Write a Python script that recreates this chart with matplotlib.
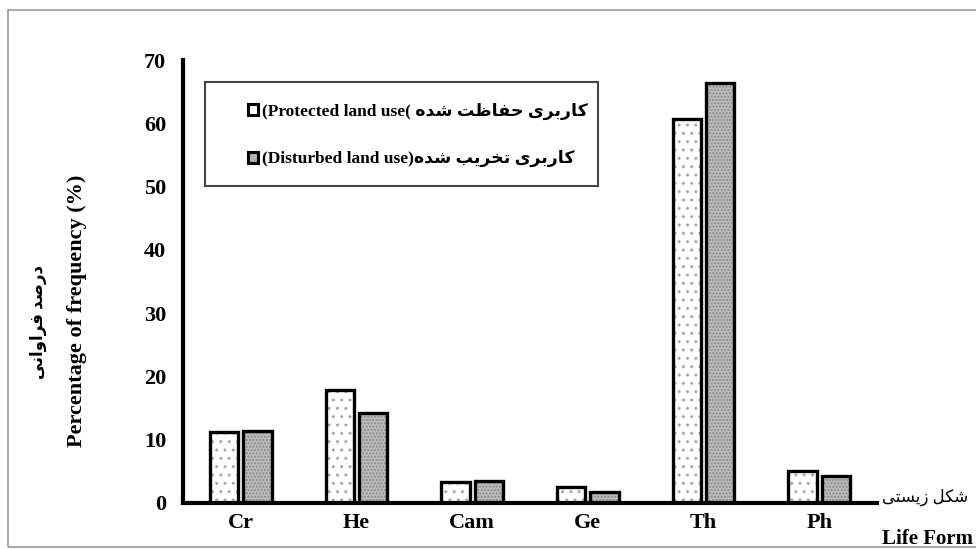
import numpy as np
import matplotlib.pyplot as plt
from matplotlib.patches import Rectangle

# data
categories = ['Cr', 'He', 'Cam', 'Ge', 'Th', 'Ph']
protected = [11.2, 17.9, 3.3, 2.5, 60.7, 5.0]
disturbed = [11.4, 14.2, 3.4, 1.8, 66.4, 4.3]
yticks = [0, 10, 20, 30, 40, 50, 60, 70]

fa_protected = 'کاربری حفاظت شده'
fa_disturbed = 'کاربری تخریب شده'
fa_ylabel = 'درصد فراوانی'
fa_xlabel = 'شکل زیستی'

# minimal Persian shaping (matplotlib has no bidi / shaping)
FORMS = {
    'ا': (0xFE8D, 0xFE8E, None, None),
    'ب': (0xFE8F, 0xFE90, 0xFE91, 0xFE92),
    'ت': (0xFE95, 0xFE96, 0xFE97, 0xFE98),
    'ح': (0xFEA1, 0xFEA2, 0xFEA3, 0xFEA4),
    'خ': (0xFEA5, 0xFEA6, 0xFEA7, 0xFEA8),
    'د': (0xFEA9, 0xFEAA, None, None),
    'ر': (0xFEAD, 0xFEAE, None, None),
    'ز': (0xFEAF, 0xFEB0, None, None),
    'س': (0xFEB1, 0xFEB2, 0xFEB3, 0xFEB4),
    'ش': (0xFEB5, 0xFEB6, 0xFEB7, 0xFEB8),
    'ص': (0xFEB9, 0xFEBA, 0xFEBB, 0xFEBC),
    'ظ': (0xFEC5, 0xFEC6, 0xFEC7, 0xFEC8),
    'ف': (0xFED1, 0xFED2, 0xFED3, 0xFED4),
    'ل': (0xFEDD, 0xFEDE, 0xFEDF, 0xFEE0),
    'ن': (0xFEE5, 0xFEE6, 0xFEE7, 0xFEE8),
    'ه': (0xFEE9, 0xFEEA, 0xFEEB, 0xFEEC),
    'و': (0xFEED, 0xFEEE, None, None),
    'ک': (0xFB8E, 0xFB8F, 0xFB90, 0xFB91),
    'ی': (0xFBFC, 0xFBFD, 0xFBFE, 0xFBFF),
}


def shape(text):
    out = []
    for i, ch in enumerate(text):
        if ch not in FORMS:
            out.append(ch)
            continue
        prev = text[i - 1] if i > 0 else ''
        nxt = text[i + 1] if i + 1 < len(text) else ''
        join_prev = prev in FORMS and FORMS[prev][2] is not None
        join_next = nxt in FORMS and FORMS[ch][2] is not None
        iso, fin, ini, med = FORMS[ch]
        if join_prev and join_next:
            code = med
        elif join_prev:
            code = fin
        elif join_next:
            code = ini
        else:
            code = iso
        out.append(chr(code))
    return ''.join(out)[::-1]


serif = ['Liberation Serif', 'DejaVu Sans']
plt.rcParams['font.family'] = serif
plt.rcParams['font.weight'] = 'bold'
plt.rcParams['hatch.linewidth'] = 1.0

fig = plt.figure(figsize=(9.76, 5.49), dpi=100)
ax = fig.add_axes([183 / 976, 1 - 503 / 549, 694 / 976, 443 / 549])

x = np.arange(len(categories))
w = 0.245
off = 0.145
# fill with grey hatching, then black outlines on top
ax.bar(x - off, protected, w, facecolor='white', edgecolor='#a8a8a8',
       linewidth=0, hatch='..', zorder=2)
ax.bar(x + off, disturbed, w, facecolor='#bcbcbc', edgecolor='#888888',
       linewidth=0, hatch='.....', zorder=2)
b1 = ax.bar(x - off, protected, w, fill=False, edgecolor='black',
            linewidth=2.4, zorder=3)
b2 = ax.bar(x + off, disturbed, w, fill=False, edgecolor='black',
            linewidth=2.4, zorder=3)

ax.set_xlim(-0.5, 5.5)
ax.set_ylim(0, 70)
ax.set_yticks(yticks)
ax.set_xticks(x)
ax.set_xticklabels(categories, fontsize=16, fontweight='bold')
ax.set_yticklabels([str(t) for t in yticks], fontsize=16, fontweight='bold')
ax.tick_params(axis='both', length=0)
ax.tick_params(axis='y', pad=12)
ax.tick_params(axis='x', pad=7)
for s in ['top', 'right']:
    ax.spines[s].set_visible(False)
ax.spines['left'].set_linewidth(3.0)
ax.spines['bottom'].set_linewidth(3.0)

fig.text(77 / 976, 1 - 311 / 549, 'Percentage of frequency (%)', fontsize=16,
         fontweight='bold', rotation=90, ha='center', va='center')
fig.text(38 / 976, 1 - 322 / 549, shape(fa_ylabel), fontsize=12,
         fontweight='bold', rotation=90, ha='center', va='center')

fig.text(925 / 976, 1 - 497 / 549, shape(fa_xlabel), fontsize=12,
         fontweight='normal', ha='center', va='center')
fig.text(928 / 976, 1 - 539 / 549, 'Life Form', fontsize=15,
         fontweight='bold', ha='center', va='center')

# legend
leg_handles = [Rectangle((0, 0), 1, 1, facecolor='white', edgecolor='black', linewidth=2.2),
               Rectangle((0, 0), 1, 1, facecolor='#b0b0b0', edgecolor='black', linewidth=2.2)]
leg = ax.legend(leg_handles,
                ['(Protected land use( ' + shape(fa_protected),
                 '(Disturbed land use)' + shape(fa_disturbed)],
                loc='upper left', bbox_to_anchor=(232 / 976, 1 - 87 / 549),
                bbox_transform=fig.transFigure, frameon=False,
                handlelength=0.6, handleheight=0.6, handletextpad=0.25,
                labelspacing=1.75, prop={'size': 12.5, 'weight': 'bold'})
fig.patches.append(Rectangle((205 / 976, 1 - 186 / 549), 393 / 976, 104 / 549,
                             transform=fig.transFigure, fill=False,
                             edgecolor='#444444', linewidth=1.5))

# outer frame of the picture
fig.patches.append(Rectangle((8 / 976, 1 - 547 / 549), 1.0, 537 / 549,
                             transform=fig.transFigure, fill=False,
                             edgecolor='#999999', linewidth=1.2))

fig.savefig('out.png', dpi=100)
